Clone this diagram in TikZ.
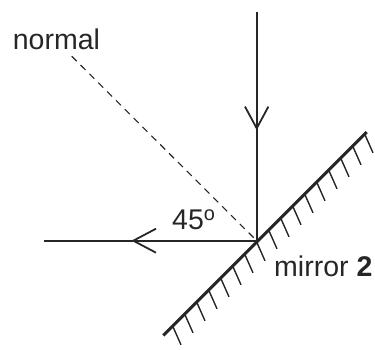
\documentclass[tikz,border=0pt]{standalone}
\usepackage{fontspec}
\setmainfont{Liberation Sans}
\usetikzlibrary{calc}
\tikzset{
  ray/.style={line width=1.8pt, color=black!85},
  mirrorline/.style={line width=3pt, color=black!85},
  hatch/.style={line width=1.4pt, color=black!85},
  normalline/.style={line width=1.1pt, color=black!85, dash pattern=on 7pt off 5.5pt},
  lbl/.style={inner sep=0pt, font=\fontsize{28.5}{30}\selectfont, text=black!85}
}
\begin{document}
\begin{tikzpicture}[x=1pt, y=-1pt]
\useasboundingbox (0,0) rectangle (375,349);
\coordinate (O) at (256.7,240.7);
\coordinate (top) at (256.7,11.7);
\coordinate (left) at (44.3,240.7);
\coordinate (vtip) at (256.7,128.3);
\coordinate (htip) at (133.3,240.7);
\coordinate (nstart) at (71.7,56.2);
\coordinate (mbot) at (163.3,335.5);
\coordinate (mtop) at (366.7,132.1);
% rays
\draw[ray] (top) -- (O) -- (left);
\draw[ray] (vtip) ++(-11.7,-21.7) -- (vtip) -- ++(11.7,-21.7);
\draw[ray] (htip) ++(22.7,-12) -- (htip) -- ++(22.7,12);
% normal
\draw[normalline] (nstart) -- (O);
% mirror
\draw[mirrorline] (mbot) -- (mtop);
\foreach \k in {-7,...,9} {
  \draw[hatch] ($(256.7,242.1)+(12*\k,-12*\k)$) -- ++(8.3,18.7);
}
% labels
\node[lbl, anchor=base west] (normal) at (12.7,49.3) {normal};
\node[lbl, anchor=base west] (angle) at (172,229.3) {45\textsuperscript{o}};
\node[lbl, anchor=base west] (mirror) at (274,276) {mirror \textbf{2}};
\end{tikzpicture}
\end{document}
